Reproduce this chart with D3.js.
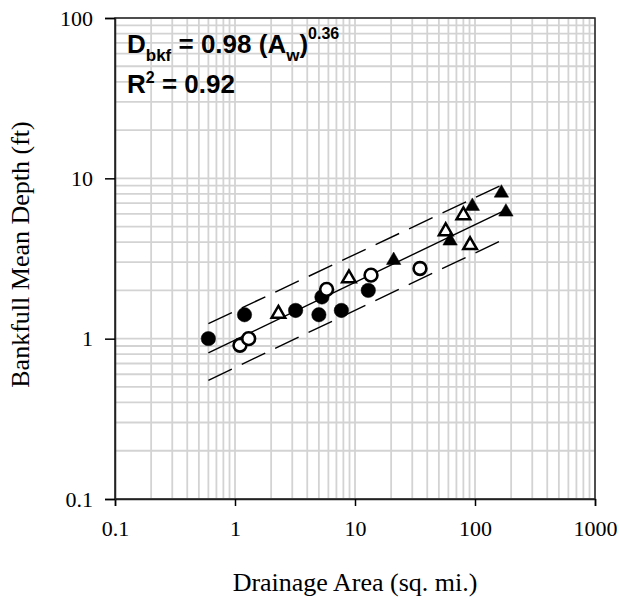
<!DOCTYPE html>
<html>
<head>
<meta charset="utf-8">
<script src="https://cdn.jsdelivr.net/npm/d3@7"></script>
<style>
  body { margin: 0; background: #fff; }
  svg { display: block; }
</style>
</head>
<body>
<div id="chart"></div>
<script>
// Bankfull mean depth vs drainage area, log-log with regression and bands

// Data (drainage area in sq. mi., depth in ft)
var filledCircleArea = [0.6, 1.2, 3.2, 5.0, 5.3, 7.7, 12.9];
var filledCircleDepth = [1.0, 1.41, 1.5, 1.41, 1.82, 1.5, 2.0];

var openCircleArea = [1.1, 1.3, 5.8, 13.6, 34.8];
var openCircleDepth = [0.91, 1.0, 2.03, 2.49, 2.74];

var openTriangleArea = [2.3, 8.9, 57, 80, 91];
var openTriangleDepth = [1.43, 2.38, 4.68, 5.88, 3.83];

var filledTriangleArea = [21, 62, 95, 166, 181];
var filledTriangleDepth = [3.08, 4.07, 6.7, 8.1, 6.17];

// Regression D = 0.98 A^0.36 and the dashed bands
var fitCoef = 0.98;
var fitExp = 0.36;
var fitRange = [0.6, 181];
var upperBandArea = [0.6, 181];
var upperBandDepth = [1.24, 9.35];
var lowerBandArea = [0.6, 181];
var lowerBandDepth = [0.55, 4.23];

var xTickValues = [0.1, 1, 10, 100, 1000];
var yTickValues = [0.1, 1, 10, 100];

var width = 619, height = 600;
var margin = {top: 18, left: 115, right: 24, bottom: 101};
var plotW = width - margin.left - margin.right;
var plotH = height - margin.top - margin.bottom;

var svg = d3.select('#chart')
  .append('svg')
    .attr('width', width)
    .attr('height', height);

var g = svg.append('g')
  .attr('transform', 'translate(' + margin.left + ',' + margin.top + ')');

var x = d3.scaleLog().domain([0.1, 1000]).range([0, plotW]);
var y = d3.scaleLog().domain([0.1, 100]).range([plotH, 0]);

// Grid lines at every 1..9 multiple
g.append('g').selectAll('line.vg')
  .data(x.ticks())
  .enter().append('line')
    .attr('x1', function(d){ return x(d); })
    .attr('x2', function(d){ return x(d); })
    .attr('y1', 0)
    .attr('y2', plotH)
    .style('stroke', '#d3d3d3')
    .style('stroke-width', 1.8);

g.append('g').selectAll('line.hg')
  .data(y.ticks())
  .enter().append('line')
    .attr('y1', function(d){ return y(d); })
    .attr('y2', function(d){ return y(d); })
    .attr('x1', 0)
    .attr('x2', plotW)
    .style('stroke', '#d3d3d3')
    .style('stroke-width', 1.8);

// Frame
g.append('rect')
  .attr('width', plotW)
  .attr('height', plotH)
  .style('fill', 'none')
  .style('stroke', '#222')
  .style('stroke-width', 1.5);

// Axes
var xAxis = g.append('g')
  .attr('transform', 'translate(0,' + plotH + ')')
  .call(d3.axisBottom(x).tickValues(xTickValues).tickSize(7).tickPadding(14)
    .tickFormat(function(d){ return d3.format('')(d); }));

var yAxis = g.append('g')
  .call(d3.axisLeft(y).tickValues(yTickValues).tickSize(10).tickPadding(12)
    .tickFormat(function(d){ return d3.format('')(d); }));

[xAxis, yAxis].forEach(function(a){
  a.select('.domain').style('stroke', '#222').style('stroke-width', 1.5);
  a.selectAll('.tick line').style('stroke', '#000').style('stroke-width', 1.5);
  a.selectAll('.tick text')
    .style('font-family', '"Liberation Serif", "Times New Roman", serif')
    .style('font-size', '22px')
    .style('fill', '#000');
});

// Regression line and bands
var line = d3.line()
  .x(function(d){ return x(d[0]); })
  .y(function(d){ return y(d[1]); });

var fitPts = fitRange.map(function(a){ return [a, fitCoef * Math.pow(a, fitExp)]; });
g.append('path')
  .attr('d', line(fitPts))
  .style('fill', 'none')
  .style('stroke', '#000')
  .style('stroke-width', 1.4);

[[upperBandArea, upperBandDepth], [lowerBandArea, lowerBandDepth]].forEach(function(b){
  g.append('path')
    .attr('d', line(d3.zip(b[0], b[1])))
    .style('fill', 'none')
    .style('stroke', '#000')
    .style('stroke-width', 1.4)
    .style('stroke-dasharray', '26,11');
});

// Markers
var circles = [
  {area: filledCircleArea, depth: filledCircleDepth, fill: '#000'},
  {area: openCircleArea, depth: openCircleDepth, fill: '#fff'}
];
circles.forEach(function(s){
  g.append('g').selectAll('circle')
    .data(d3.zip(s.area, s.depth))
    .enter().append('circle')
      .attr('cx', function(d){ return x(d[0]); })
      .attr('cy', function(d){ return y(d[1]); })
      .attr('r', s.fill === '#000' ? 7.2 : 6.4)
      .style('fill', s.fill)
      .style('stroke', '#000')
      .style('stroke-width', s.fill === '#000' ? 0.5 : 2.6);
});

var triangles = [
  {area: openTriangleArea, depth: openTriangleDepth, fill: '#fff'},
  {area: filledTriangleArea, depth: filledTriangleDepth, fill: '#000'}
];
var tri = d3.symbol().type(d3.symbolTriangle);
triangles.forEach(function(s){
  g.append('g').selectAll('path')
    .data(d3.zip(s.area, s.depth))
    .enter().append('path')
      .attr('d', tri.size(s.fill === '#000' ? 90 : 80)())
      .attr('transform', function(d){ return 'translate(' + x(d[0]) + ',' + y(d[1]) + ')'; })
      .style('fill', s.fill)
      .style('stroke', '#000')
      .style('stroke-width', s.fill === '#000' ? 0.5 : 2.5);
});

// Equation text
var eq = svg.append('text')
  .attr('x', 127)
  .attr('y', 53)
  .style('font-family', '"Liberation Sans", Arial, sans-serif')
  .style('font-weight', 'bold')
  .style('font-size', '26px')
  .style('fill', '#000');
eq.append('tspan').text('D');
eq.append('tspan').attr('dy', 8).style('font-size', '17px').text('bkf');
eq.append('tspan').attr('dy', -8).text(' = 0.98 (A');
eq.append('tspan').attr('dy', 8).style('font-size', '17px').text('w');
eq.append('tspan').attr('dy', -8).text(')');
eq.append('tspan').attr('dy', -14).style('font-size', '16px').text('0.36');

var r2 = svg.append('text')
  .attr('x', 127)
  .attr('y', 93)
  .style('font-family', '"Liberation Sans", Arial, sans-serif')
  .style('font-weight', 'bold')
  .style('font-size', '26px')
  .style('fill', '#000');
r2.append('tspan').text('R');
r2.append('tspan').attr('dy', -10).style('font-size', '16px').text('2');
r2.append('tspan').attr('dy', 10).text(' = 0.92');

// Axis titles
svg.append('text')
  .attr('x', margin.left + plotW / 2)
  .attr('y', 591)
  .attr('text-anchor', 'middle')
  .style('font-family', '"Liberation Serif", "Times New Roman", serif')
  .style('font-size', '26px')
  .text('Drainage Area (sq. mi.)');

svg.append('text')
  .attr('transform', 'translate(29,' + (margin.top + plotH / 2 - 4) + ') rotate(-90)')
  .attr('text-anchor', 'middle')
  .style('font-family', '"Liberation Serif", "Times New Roman", serif')
  .style('font-size', '26px')
  .text('Bankfull Mean Depth (ft)');
</script>
</body>
</html>
